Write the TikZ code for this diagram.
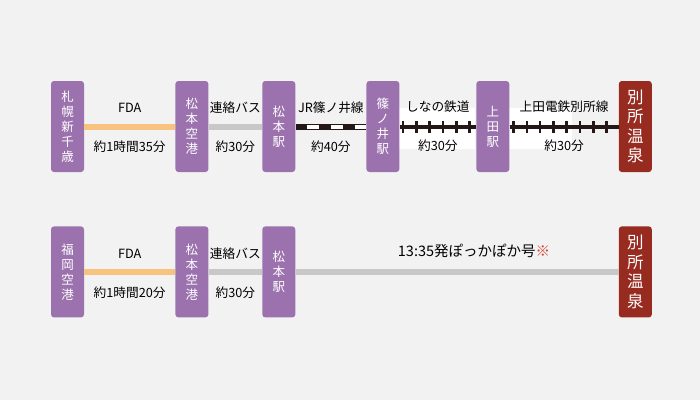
\documentclass[tikz,border=0pt]{standalone}
\usepackage{fontspec}
\setmainfont{Noto Sans CJK JP}
\usetikzlibrary{positioning}

\definecolor{stnpurple}{HTML}{9B72AE}
\definecolor{spared}{HTML}{982B20}
\definecolor{notered}{HTML}{D33A2C}
\definecolor{fdaorange}{HTML}{F8C27F}
\definecolor{busgray}{HTML}{C8C8C8}
\definecolor{bggray}{HTML}{F2F2F2}
\definecolor{railblack}{HTML}{231815}

\begin{document}
\begin{tikzpicture}[x=1pt, y=-1pt,
		stationbox/.style={rectangle, rounded corners=3pt, fill=stnpurple, text=white,
		minimum width=33pt, minimum height=91pt, inner sep=0pt, align=center,
		font=\fontsize{12.5}{15}\selectfont},
		spabox/.style={stationbox, fill=spared, font=\fontsize{16.5}{19.5}\selectfont},
		fdaline/.style={line width=6pt, fdaorange},
		busline/.style={line width=6pt, busgray},
		railtrack/.style={line width=4pt, railblack},
		railtie/.style={line width=12pt, railblack, dash pattern=on 2.6pt off 10.7pt},
		jrouter/.style={line width=6pt, railblack},
		jrinner/.style={line width=4pt, white, dash pattern=on 12pt off 12pt, dash phase=13pt},
		routelabel/.style={midway, text=black, font=\fontsize{12.7}{14}\selectfont}
		]
		
		\fill[bggray] (0,0) rectangle (700,400);
		\fill[white] (398.2,108) rectangle (474.7,149);
		\fill[white] (507.7,108) rectangle (572,149);
		
		\node[stationbox] (chitose) at (67.5,126.5) {札\\幌\\新\\千\\歳};
		\node[stationbox, right=91pt of chitose] (mmAir) {松\\本\\空\\港};
		\node[stationbox, right=53.5pt of mmAir] (mmSta) {松\\本\\駅};
		\node[stationbox, right=70.7pt of mmSta] (shinonoi) {篠\\ノ\\井\\駅};
		\node[stationbox, right=76.5pt of shinonoi] (ueda) {上\\田\\駅};
		\node[spabox, right=109.1pt of ueda] (bessho) {別\\所\\温\\泉};
		
		\node[stationbox, below=54pt of chitose] (fukuoka) {福\\岡\\空\\港};
		\node[stationbox, right=91pt of fukuoka] (mmAirB) {松\\本\\空\\港};
		\node[stationbox, right=53.5pt of mmAirB] (mmStaB) {松\\本\\駅};
		\node[spabox, below=54pt of bessho] (besshoB) {別\\所\\温\\泉};
		
		\draw[fdaline] (chitose) -- (mmAir)
		node[routelabel, yshift=18.5pt]{FDA}
		node[routelabel, yshift=-20.5pt]{約1時間35分};
		\draw[busline] (mmAir) -- (mmSta)
		node[routelabel, yshift=18.5pt]{連絡バス}
		node[routelabel, yshift=-20.5pt]{約30分};
		\draw[jrouter] (mmSta) -- (shinonoi);
		\draw[jrinner] (mmSta) -- (shinonoi)
		node[routelabel, yshift=18.5pt]{JR篠ノ井線}
		node[routelabel, yshift=-20.5pt]{約40分};
		\draw[railtrack] (shinonoi) -- (ueda);
		\draw[railtie, dash phase=11.1pt] (shinonoi) -- (ueda)
		node[routelabel, yshift=19.5pt]{しなの鉄道}
		node[routelabel, yshift=-19pt]{約30分};
		\draw[railtrack] (ueda) -- (bessho);
		\draw[railtie, dash phase=10.6pt] (ueda) -- (bessho)
		node[routelabel, yshift=19.5pt]{上田電鉄別所線}
		node[routelabel, yshift=-19pt]{約30分};
		
		\draw[fdaline] (fukuoka) -- (mmAirB)
		node[routelabel, yshift=18.5pt]{FDA}
		node[routelabel, yshift=-20.5pt]{約1時間20分};
		\draw[busline] (mmAirB) -- (mmStaB)
		node[routelabel, yshift=18.5pt]{連絡バス}
		node[routelabel, yshift=-20.5pt]{約30分};
		\draw[busline] (mmStaB) -- (besshoB)
		node[routelabel, xshift=17pt, yshift=21.5pt, font=\fontsize{14.5}{16}\selectfont]
		{13:35発ぽっかぽか号\textcolor{notered}{※}};
	\end{tikzpicture}
\end{document}
